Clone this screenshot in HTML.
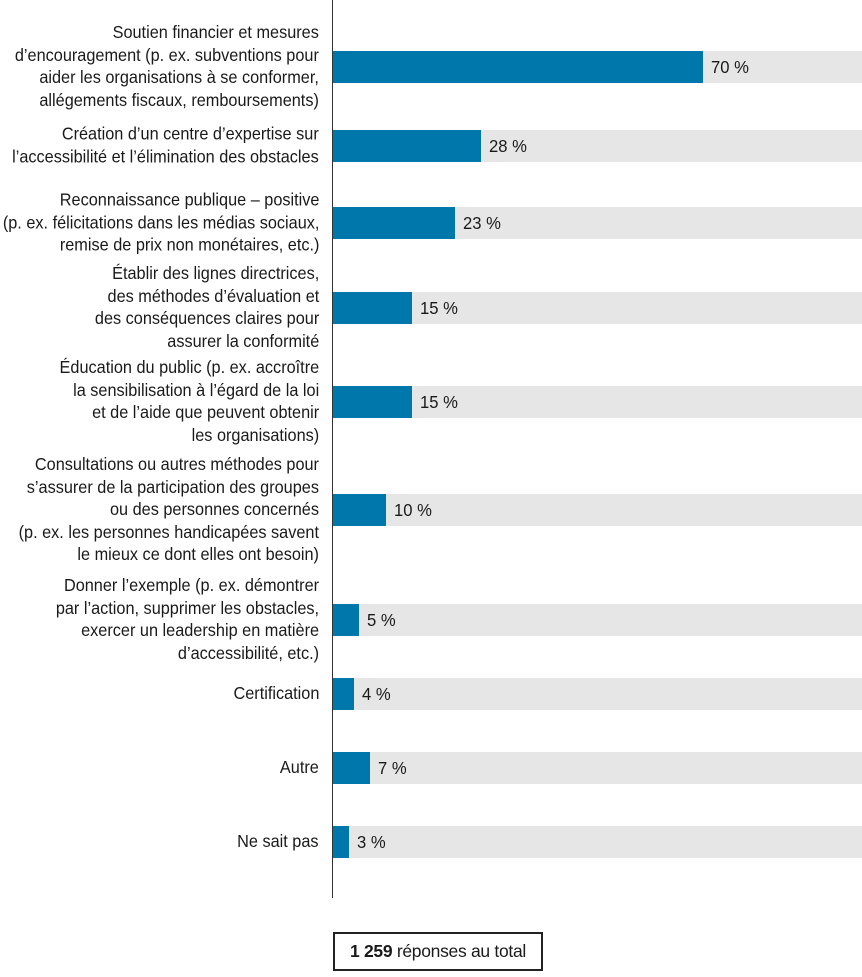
<!DOCTYPE html>
<html><head><meta charset="utf-8"><style>
body{margin:0;background:#fff;width:862px;height:977px;position:relative;overflow:hidden;font-family:"Liberation Sans Narrow","Liberation Sans",sans-serif;color:#1a1a1a}
.lab{position:absolute;right:543px;text-align:right;font-size:17.5px;line-height:22.5px;transform:translateY(-50%) scaleX(0.93);transform-origin:right center;white-space:nowrap}
.bg{position:absolute;left:333px;width:529px;height:32px;background:#e6e6e6}
.bar{position:absolute;left:333px;height:32px;background:#0077aa}
.val{position:absolute;font-size:17.5px;line-height:32px;transform:scaleX(0.95);transform-origin:left center}
#axis{position:absolute;left:332px;top:0;width:1px;height:898px;background:#333}
#total{position:absolute;left:333px;top:932px;width:206px;height:35px;border:2px solid #222;font-size:17.5px;line-height:35px;text-align:center;letter-spacing:-0.3px}
</style></head><body>
<div id="axis"></div>
<div id="chart"></div>
<div id="total"><b>1 259</b> réponses au total</div>
<script>
const categories=[
"Soutien financier et mesures<br>d’encouragement (p. ex. subventions pour<br>aider les organisations à se conformer,<br>allégements fiscaux, remboursements)",
"Création d’un centre d’expertise sur<br>l’accessibilité et l’élimination des obstacles",
"Reconnaissance publique – positive<br>(p. ex. félicitations dans les médias sociaux,<br>remise de prix non monétaires, etc.)",
"Établir des lignes directrices,<br>des méthodes d’évaluation et<br>des conséquences claires pour<br>assurer la conformité",
"Éducation du public (p. ex. accroître<br>la sensibilisation à l’égard de la loi<br>et de l’aide que peuvent obtenir<br>les organisations)",
"Consultations ou autres méthodes pour<br>s’assurer de la participation des groupes<br>ou des personnes concernés<br>(p. ex. les personnes handicapées savent<br>le mieux ce dont elles ont besoin)",
"Donner l’exemple (p. ex. démontrer<br>par l’action, supprimer les obstacles,<br>exercer un leadership en matière<br>d’accessibilité, etc.)",
"Certification","Autre","Ne sait pas"];
const values=[70,28,23,15,15,10,5,4,7,3];
const valueLabels=["70 %","28 %","23 %","15 %","15 %","10 %","5 %","4 %","7 %","3 %"];
const rowTops=[51,130,207,292,386,494,604,678,752,826];
const x=v=>v/100*529;
const c=document.getElementById('chart');
values.forEach((v,i)=>{
  const t=rowTops[i];
  const bg=document.createElement('div');bg.className='bg';bg.style.top=t+'px';
  
  
  c.appendChild(bg);
  const b=document.createElement('div');b.className='bar';b.style.top=t+'px';b.style.width=x(v)+'px';
  
  
  c.appendChild(b);
  const l=document.createElement('div');l.className='val';l.style.top=t+'px';l.style.left=(333+x(v)+8)+'px';l.textContent=valueLabels[i];
  
  
  c.appendChild(l);
  const cl=document.createElement('div');cl.className='lab';cl.style.top=(t+15)+'px';cl.innerHTML=categories[i];
  
  
  c.appendChild(cl);
});
</script>
</body></html>
